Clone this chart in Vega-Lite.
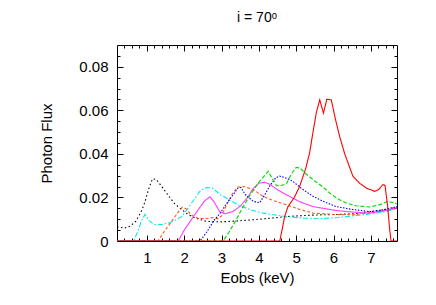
{
  "$schema": "https://vega.github.io/schema/vega-lite/v6.json",
  "width": 280,
  "height": 196,
  "autosize": {"type": "none"},
  "padding": {"left": 117, "top": 45, "right": 39, "bottom": 64},
  "title": {"text": "i = 70ᵒ", "fontSize": 14, "fontWeight": "normal", "font": "Liberation Sans", "frame": "group", "offset": 20, "color": "black"},
  "config": {
    "font": "Liberation Sans",
    "view": {"stroke": "black", "strokeWidth": 1},
    "axis": {"grid": false, "domain": false, "tickColor": "black", "labelColor": "black", "titleColor": "black", "labelFontSize": 15, "titleFontSize": 15, "titleFontWeight": "normal", "labelOverlap": false, "labelBound": false, "labelFlush": false}
  },
  "datasets": {
    "spec": [
      {"s": "a", "E": 0.2, "F": 0.0066}, {"s": "a", "E": 0.4, "F": 0.0059}, {"s": "a", "E": 0.55, "F": 0.0068}, {"s": "a", "E": 0.7, "F": 0.009}, {"s": "a", "E": 0.85, "F": 0.0135}, {"s": "a", "E": 0.95, "F": 0.018}, {"s": "a", "E": 1.05, "F": 0.024}, {"s": "a", "E": 1.15, "F": 0.0285}, {"s": "a", "E": 1.25, "F": 0.0283}, {"s": "a", "E": 1.4, "F": 0.025}, {"s": "a", "E": 1.57, "F": 0.021}, {"s": "a", "E": 1.75, "F": 0.017}, {"s": "a", "E": 1.93, "F": 0.0145}, {"s": "a", "E": 2.1, "F": 0.0122}, {"s": "a", "E": 2.3, "F": 0.0105}, {"s": "a", "E": 2.6, "F": 0.009}, {"s": "a", "E": 3.0, "F": 0.0088}, {"s": "a", "E": 3.4, "F": 0.0092}, {"s": "a", "E": 3.8, "F": 0.0097}, {"s": "a", "E": 4.2, "F": 0.0103}, {"s": "a", "E": 4.74, "F": 0.0112}, {"s": "a", "E": 5.2, "F": 0.0117}, {"s": "a", "E": 5.63, "F": 0.012}, {"s": "a", "E": 6.1, "F": 0.0122}, {"s": "a", "E": 6.52, "F": 0.0125}, {"s": "a", "E": 7.0, "F": 0.0135}, {"s": "a", "E": 7.4, "F": 0.0145}, {"s": "a", "E": 7.7, "F": 0.0155},

      {"s": "b", "E": 0.2, "F": 0}, {"s": "b", "E": 0.64, "F": 0}, {"s": "b", "E": 0.75, "F": 0.004}, {"s": "b", "E": 0.85, "F": 0.009}, {"s": "b", "E": 0.95, "F": 0.0122}, {"s": "b", "E": 1.05, "F": 0.0095}, {"s": "b", "E": 1.2, "F": 0.0075}, {"s": "b", "E": 1.4, "F": 0.0076}, {"s": "b", "E": 1.57, "F": 0.0082}, {"s": "b", "E": 1.75, "F": 0.0095}, {"s": "b", "E": 1.93, "F": 0.0112}, {"s": "b", "E": 2.1, "F": 0.015}, {"s": "b", "E": 2.29, "F": 0.0197}, {"s": "b", "E": 2.45, "F": 0.0235}, {"s": "b", "E": 2.6, "F": 0.0245}, {"s": "b", "E": 2.75, "F": 0.0244}, {"s": "b", "E": 2.95, "F": 0.0215}, {"s": "b", "E": 3.2, "F": 0.019}, {"s": "b", "E": 3.49, "F": 0.0162}, {"s": "b", "E": 3.8, "F": 0.0142}, {"s": "b", "E": 4.11, "F": 0.0128}, {"s": "b", "E": 4.74, "F": 0.0112}, {"s": "b", "E": 5.2, "F": 0.0105}, {"s": "b", "E": 5.63, "F": 0.0102}, {"s": "b", "E": 6.1, "F": 0.0108}, {"s": "b", "E": 6.52, "F": 0.0115}, {"s": "b", "E": 7.0, "F": 0.0125}, {"s": "b", "E": 7.41, "F": 0.0135}, {"s": "b", "E": 7.7, "F": 0.015},

      {"s": "c", "E": 0.2, "F": 0}, {"s": "c", "E": 1.3, "F": 0}, {"s": "c", "E": 1.45, "F": 0.004}, {"s": "c", "E": 1.66, "F": 0.009}, {"s": "c", "E": 1.85, "F": 0.0135}, {"s": "c", "E": 1.95, "F": 0.0155}, {"s": "c", "E": 2.05, "F": 0.0148}, {"s": "c", "E": 2.2, "F": 0.0118}, {"s": "c", "E": 2.4, "F": 0.0103}, {"s": "c", "E": 2.6, "F": 0.0103}, {"s": "c", "E": 2.75, "F": 0.0108}, {"s": "c", "E": 2.9, "F": 0.0102}, {"s": "c", "E": 3.0, "F": 0.0115}, {"s": "c", "E": 3.15, "F": 0.017}, {"s": "c", "E": 3.3, "F": 0.022}, {"s": "c", "E": 3.44, "F": 0.0248}, {"s": "c", "E": 3.6, "F": 0.025}, {"s": "c", "E": 3.85, "F": 0.0236}, {"s": "c", "E": 4.11, "F": 0.0205}, {"s": "c", "E": 4.4, "F": 0.0185}, {"s": "c", "E": 4.74, "F": 0.0166}, {"s": "c", "E": 5.1, "F": 0.0145}, {"s": "c", "E": 5.45, "F": 0.0128}, {"s": "c", "E": 6.0, "F": 0.0122}, {"s": "c", "E": 6.52, "F": 0.012}, {"s": "c", "E": 7.0, "F": 0.013}, {"s": "c", "E": 7.4, "F": 0.014}, {"s": "c", "E": 7.7, "F": 0.0152},

      {"s": "d", "E": 0.2, "F": 0}, {"s": "d", "E": 1.84, "F": 0}, {"s": "d", "E": 2.0, "F": 0.005}, {"s": "d", "E": 2.2, "F": 0.01}, {"s": "d", "E": 2.4, "F": 0.015}, {"s": "d", "E": 2.55, "F": 0.0185}, {"s": "d", "E": 2.69, "F": 0.0203}, {"s": "d", "E": 2.8, "F": 0.018}, {"s": "d", "E": 2.95, "F": 0.0135}, {"s": "d", "E": 3.1, "F": 0.0125}, {"s": "d", "E": 3.3, "F": 0.0135}, {"s": "d", "E": 3.5, "F": 0.016}, {"s": "d", "E": 3.7, "F": 0.02}, {"s": "d", "E": 3.84, "F": 0.024}, {"s": "d", "E": 4.0, "F": 0.0265}, {"s": "d", "E": 4.15, "F": 0.027}, {"s": "d", "E": 4.3, "F": 0.026}, {"s": "d", "E": 4.5, "F": 0.0235}, {"s": "d", "E": 4.74, "F": 0.0212}, {"s": "d", "E": 5.1, "F": 0.018}, {"s": "d", "E": 5.45, "F": 0.0158}, {"s": "d", "E": 6.07, "F": 0.014}, {"s": "d", "E": 6.5, "F": 0.0133}, {"s": "d", "E": 6.96, "F": 0.0128}, {"s": "d", "E": 7.4, "F": 0.014}, {"s": "d", "E": 7.7, "F": 0.0152},

      {"s": "e", "E": 0.2, "F": 0}, {"s": "e", "E": 2.42, "F": 0}, {"s": "e", "E": 2.6, "F": 0.004}, {"s": "e", "E": 2.8, "F": 0.0095}, {"s": "e", "E": 2.95, "F": 0.0125}, {"s": "e", "E": 3.15, "F": 0.0175}, {"s": "e", "E": 3.3, "F": 0.021}, {"s": "e", "E": 3.44, "F": 0.0243}, {"s": "e", "E": 3.52, "F": 0.0245}, {"s": "e", "E": 3.65, "F": 0.021}, {"s": "e", "E": 3.85, "F": 0.0182}, {"s": "e", "E": 4.02, "F": 0.0176}, {"s": "e", "E": 4.15, "F": 0.021}, {"s": "e", "E": 4.3, "F": 0.0255}, {"s": "e", "E": 4.45, "F": 0.029}, {"s": "e", "E": 4.56, "F": 0.0298}, {"s": "e", "E": 4.75, "F": 0.0288}, {"s": "e", "E": 4.91, "F": 0.0274}, {"s": "e", "E": 5.15, "F": 0.024}, {"s": "e", "E": 5.45, "F": 0.0205}, {"s": "e", "E": 5.75, "F": 0.018}, {"s": "e", "E": 6.07, "F": 0.0158}, {"s": "e", "E": 6.5, "F": 0.0145}, {"s": "e", "E": 6.96, "F": 0.0135}, {"s": "e", "E": 7.3, "F": 0.0142}, {"s": "e", "E": 7.7, "F": 0.0158},

      {"s": "f", "E": 0.2, "F": 0}, {"s": "f", "E": 3.04, "F": 0}, {"s": "f", "E": 3.2, "F": 0.004}, {"s": "f", "E": 3.4, "F": 0.01}, {"s": "f", "E": 3.58, "F": 0.0158}, {"s": "f", "E": 3.8, "F": 0.022}, {"s": "f", "E": 4.0, "F": 0.027}, {"s": "f", "E": 4.15, "F": 0.03}, {"s": "f", "E": 4.25, "F": 0.032}, {"s": "f", "E": 4.35, "F": 0.029}, {"s": "f", "E": 4.47, "F": 0.0254}, {"s": "f", "E": 4.6, "F": 0.0255}, {"s": "f", "E": 4.74, "F": 0.0263}, {"s": "f", "E": 4.88, "F": 0.031}, {"s": "f", "E": 5.0, "F": 0.0338}, {"s": "f", "E": 5.1, "F": 0.0335}, {"s": "f", "E": 5.25, "F": 0.031}, {"s": "f", "E": 5.45, "F": 0.0282}, {"s": "f", "E": 5.7, "F": 0.025}, {"s": "f", "E": 5.9, "F": 0.022}, {"s": "f", "E": 6.1, "F": 0.0195}, {"s": "f", "E": 6.34, "F": 0.0174}, {"s": "f", "E": 6.6, "F": 0.0162}, {"s": "f", "E": 6.96, "F": 0.0156}, {"s": "f", "E": 7.23, "F": 0.0166}, {"s": "f", "E": 7.45, "F": 0.0182}, {"s": "f", "E": 7.6, "F": 0.0176}, {"s": "f", "E": 7.7, "F": 0.017},

      {"s": "g", "E": 0.2, "F": 0}, {"s": "g", "E": 4.56, "F": 0}, {"s": "g", "E": 4.62, "F": 0.005}, {"s": "g", "E": 4.69, "F": 0.0112}, {"s": "g", "E": 4.78, "F": 0.0158}, {"s": "g", "E": 4.95, "F": 0.02}, {"s": "g", "E": 5.09, "F": 0.025}, {"s": "g", "E": 5.25, "F": 0.033}, {"s": "g", "E": 5.36, "F": 0.0405}, {"s": "g", "E": 5.45, "F": 0.05}, {"s": "g", "E": 5.54, "F": 0.059}, {"s": "g", "E": 5.63, "F": 0.0648}, {"s": "g", "E": 5.73, "F": 0.0587}, {"s": "g", "E": 5.82, "F": 0.0651}, {"s": "g", "E": 5.94, "F": 0.0648}, {"s": "g", "E": 6.05, "F": 0.056}, {"s": "g", "E": 6.16, "F": 0.0482}, {"s": "g", "E": 6.3, "F": 0.04}, {"s": "g", "E": 6.52, "F": 0.0297}, {"s": "g", "E": 6.7, "F": 0.0265}, {"s": "g", "E": 6.88, "F": 0.0243}, {"s": "g", "E": 7.0, "F": 0.0235}, {"s": "g", "E": 7.1, "F": 0.0228}, {"s": "g", "E": 7.2, "F": 0.0235}, {"s": "g", "E": 7.32, "F": 0.0259}, {"s": "g", "E": 7.38, "F": 0.0255}, {"s": "g", "E": 7.45, "F": 0.0158}, {"s": "g", "E": 7.5, "F": 0.006}, {"s": "g", "E": 7.54, "F": 0}, {"s": "g", "E": 7.7, "F": 0}
    ]
  },
  "data": {"name": "spec"},
  "resolve": {"axis": {"x": "independent", "y": "independent"}},
  "layer": [
    {
      "mark": {"type": "line", "strokeWidth": 1.1, "clip": true},
      "encoding": {
        "x": {"field": "E", "type": "quantitative", "scale": {"domain": [0.2, 7.7], "nice": false, "zero": false},
          "axis": {"orient": "bottom", "title": "Eobs (keV)", "titlePadding": 2,
            "values": [0.4,0.6,0.8,1,1.2,1.4,1.6,1.8,2,2.2,2.4,2.6,2.8,3,3.2,3.4,3.6,3.8,4,4.2,4.4,4.6,4.8,5,5.2,5.4,5.6,5.8,6,6.2,6.4,6.6,6.8,7,7.2,7.4,7.6],
            "tickSize": {"condition": {"test": "abs(datum.value - round(datum.value)) < 0.001", "value": -6}, "value": -3},
            "labelPadding": 15,
            "labelExpr": "abs(datum.value - round(datum.value)) < 0.001 ? format(datum.value, 'd') : ''"}},
        "y": {"field": "F", "type": "quantitative", "scale": {"domain": [0, 0.09], "nice": false, "zero": true},
          "axis": {"orient": "left", "title": "Photon Flux", "titlePadding": 24,
            "values": [0.005,0.01,0.015,0.02,0.025,0.03,0.035,0.04,0.045,0.05,0.055,0.06,0.065,0.07,0.075,0.08,0.085,0],
            "tickSize": {"condition": {"test": "abs(datum.value*50 - round(datum.value*50)) < 0.001", "value": -6}, "value": -3},
            "labelPadding": 15,
            "labelExpr": "abs(datum.value*50 - round(datum.value*50)) < 0.001 ? (datum.value == 0 ? '0' : format(datum.value, '.2f')) : ''"}},
        "color": {"field": "s", "type": "nominal", "legend": null,
          "scale": {"domain": ["a","b","c","d","e","f","g"], "range": ["#000000","#00e8e8","#ff5a1e","#ff3cff","#0000ff","#00d800","#ff0000"]}},
        "strokeDash": {"field": "s", "type": "nominal", "legend": null,
          "scale": {"domain": ["a","b","c","d","e","f","g"], "range": [[1.5,2.5],[5,2,1.5,2],[3,2],[1,0],[1.5,1.5],[4,2],[1,0]]}}
      }
    },
    {
      "mark": {"type": "line", "strokeOpacity": 0},
      "encoding": {
        "x": {"field": "E", "type": "quantitative",
          "axis": {"orient": "top", "title": null, "labels": false,
            "values": [0.4,0.6,0.8,1,1.2,1.4,1.6,1.8,2,2.2,2.4,2.6,2.8,3,3.2,3.4,3.6,3.8,4,4.2,4.4,4.6,4.8,5,5.2,5.4,5.6,5.8,6,6.2,6.4,6.6,6.8,7,7.2,7.4,7.6],
            "tickSize": {"condition": {"test": "abs(datum.value - round(datum.value)) < 0.001", "value": -6}, "value": -3}}},
        "y": {"field": "F", "type": "quantitative",
          "axis": {"orient": "right", "title": null, "labels": false,
            "values": [0.005,0.01,0.015,0.02,0.025,0.03,0.035,0.04,0.045,0.05,0.055,0.06,0.065,0.07,0.075,0.08,0.085],
            "tickSize": {"condition": {"test": "abs(datum.value*50 - round(datum.value*50)) < 0.001", "value": -6}, "value": -3}}},
        "detail": {"field": "s", "type": "nominal"}
      }
    }
  ]
}
